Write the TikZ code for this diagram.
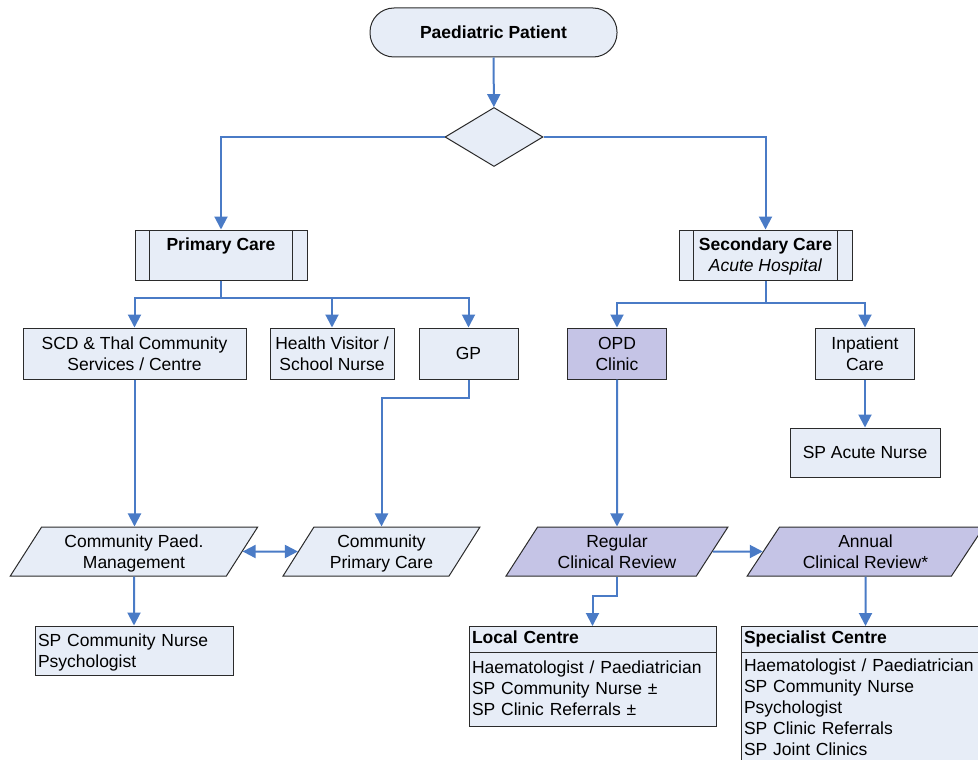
\documentclass[tikz,border=0pt]{standalone}
\usepackage{fontspec}
\setmainfont{Liberation Sans}
\usetikzlibrary{arrows.meta,shapes.geometric,shapes.multipart}

\definecolor{boxfill}{HTML}{E7EDF7}
\definecolor{clinfill}{HTML}{C5C4E6}
\definecolor{linkblue}{HTML}{4A7BC6}
\definecolor{edgegray}{HTML}{2B2B2B}

\newcommand{\lowstrut}{\rule{0pt}{19pt}}

\tikzset{
  box/.style={draw=edgegray, line width=1pt, fill=boxfill, align=center,
    inner sep=0pt, minimum height=51pt},
  clinic/.style={box, fill=clinfill},
  terminal/.style={box, minimum height=49pt, rounded corners=24pt},
  decision/.style={diamond, draw=edgegray, line width=1pt, fill=boxfill,
    inner sep=0pt, minimum width=98pt, minimum height=59pt},
  subproc/.style={box, minimum height=50pt,
    path picture={
      \draw[edgegray, line width=1pt]
        ([xshift=14.5pt]path picture bounding box.north west) -- ([xshift=14.5pt]path picture bounding box.south west)
        ([xshift=-14.5pt]path picture bounding box.north east) -- ([xshift=-14.5pt]path picture bounding box.south east);
    }},
  io/.style={trapezium, trapezium left angle=63, trapezium right angle=117,
    trapezium stretches=true, draw=edgegray, line width=1pt, fill=boxfill,
    align=center, inner sep=0pt, minimum height=49pt},
  staff/.style={rectangle split, rectangle split parts=2, draw=edgegray,
    line width=1pt, fill=boxfill, align=left, inner xsep=3pt, inner ysep=2pt},
  link/.style={draw=linkblue, line width=2pt, -{Triangle[length=13pt,width=13pt]}}
}

\begin{document}
\begin{tikzpicture}[x=1pt,y=-1pt,font=\fontsize{17.5pt}{21pt}\selectfont]
    \useasboundingbox (0,0) rectangle (978,760);
    \clip (0,0) rectangle (978,760);

    % top of the chart
    \node[terminal, minimum width=247pt] (patient) at (493.5,32.5) {\textbf{Paediatric Patient}};
    \node[decision] (route) at (494,137) {};
    \node[subproc, minimum width=172pt] (primary) at (221,255) {\strut\textbf{Primary Care}\\[-4pt]\strut};
    \node[subproc, minimum width=173pt] (secondary) at (765.5,255) {\lowstrut\textbf{Secondary Care}\\\textit{Acute Hospital}\strut};

    % services
    \node[box, minimum width=223pt] (scd) at (134.5,353.5) {SCD \& Thal Community\\Services / Centre};
    \node[box, minimum width=124pt] (visitor) at (332,353.5) {Health Visitor /\\School Nurse};
    \node[box, minimum width=99pt] (gp) at (468.5,353.5) {GP};
    \node[clinic, minimum width=99pt] (opd) at (617,353.5) {OPD\\Clinic};
    \node[box, minimum width=99pt] (inpatient) at (865,353.5) {Inpatient\\Care};
    \node[box, minimum width=150pt, minimum height=49pt] (acute) at (865,452.5) {SP Acute Nurse};

    % reviews and management
    \node[io, minimum width=248pt] (paedmgmt) at (134,551.5) {\lowstrut Community Paed.\\Management\strut};
    \node[io, minimum width=197pt] (primcomm) at (381.5,551.5) {\lowstrut Community\\Primary Care\strut};
    \node[io, fill=clinfill, minimum width=222pt] (regular) at (617,551.5) {\lowstrut Regular\\Clinical Review\strut};
    \node[io, fill=clinfill, minimum width=237pt] (annual) at (865.5,551.5) {\lowstrut Annual\\Clinical Review*\strut};

    % staff
    \node[box, align=left, text width=192pt, inner xsep=3pt, minimum height=49pt] (commstaff) at (134,650.5) {\lowstrut SP Community Nurse\\Psychologist\strut};
    \node[staff, text width=241pt, anchor=north] (local) at (592.5,626)
        {\strut\textbf{Local Centre}\nodepart{two}\rule{0pt}{18pt}Haematologist / Paediatrician\\SP Community Nurse ±\\SP Clinic Referrals ±\rule[-9pt]{0pt}{9pt}};
    \node[staff, text width=243pt, anchor=north] (specialist) at (865.5,626)
        {\strut\textbf{Specialist Centre}\nodepart{two}\rule{0pt}{16pt}Haematologist / Paediatrician\\SP Community Nurse\\Psychologist\\SP Clinic Referrals\\SP Joint Clinics\strut};

    % connectors
    \coordinate (pbus) at (0,298);
    \coordinate (sbus) at (0,303);
    \draw[link] (patient) -- (route);
    \draw[link] (route.west) -| (primary.north);
    \draw[link] (route.east) -| (secondary.north);
    \foreach \target in {scd,visitor,gp}
        \draw[link] (primary.south) -- (primary.south |- pbus) -| (\target.north);
    \foreach \target in {opd,inpatient}
        \draw[link] (secondary.south) -- (secondary.south |- sbus) -| (\target.north);
    \draw[link] (scd.south) -- (scd.south |- paedmgmt.north);
    \draw[link] (gp.south) -- ++(0,18) -| (primcomm.north);
    \draw[link, {Triangle[length=13pt,width=13pt]}-{Triangle[length=13pt,width=13pt]}] (paedmgmt.east) -- (primcomm.west);
    \draw[link] (paedmgmt.south) -- (commstaff.north);
    \draw[link] (opd.south) -- (regular.north);
    \draw[link] (inpatient.south) -- (acute.north);
    \draw[link] (regular.east) -- (annual.west);
    \draw[link] (regular.south) -- ++(0,19) -| (local.north);
    \draw[link] (annual.south) -- (specialist.north);
\end{tikzpicture}
\end{document}
